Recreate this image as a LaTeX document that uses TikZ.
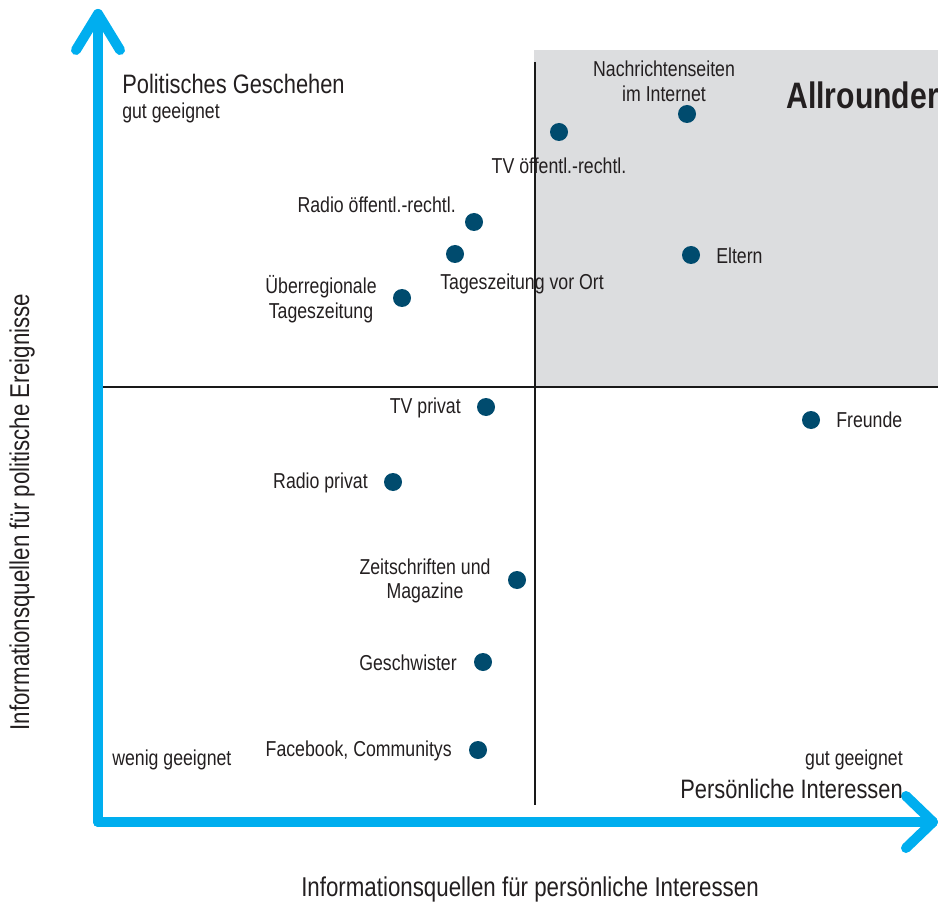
\documentclass[tikz,border=0pt]{standalone}
\usepackage{fontspec}
\setmainfont{Liberation Sans}[FakeStretch=0.82]
\begin{document}
\begin{tikzpicture}[x=0.75pt,y=-0.75pt,
  dot/.style={circle,fill=dotblue,inner sep=0pt,minimum size=13.5pt},
  lbl/.style={inner sep=0pt,font=\fontsize{16.2}{18.5}\selectfont,text=txt,align=center},
  big/.style={inner sep=0pt,font=\fontsize{20}{23}\selectfont,text=txt},
  axlbl/.style={inner sep=0pt,font=\fontsize{20.4}{23}\selectfont,text=txt},
  axis/.style={line width=7.5pt,draw=axblue,line cap=round,line join=round},
  quad/.style={line width=2.2pt,draw=black!90}]
\definecolor{dotblue}{HTML}{004B6E}
\definecolor{axblue}{HTML}{00AEEF}
\definecolor{txt}{HTML}{231F20}
\definecolor{graybg}{HTML}{DCDDDF}
\useasboundingbox (0,0) rectangle (938,905);
% grey quadrant
\fill[graybg] (534,50) rectangle (938,388);
% quadrant lines
\coordinate (vt) at (535,62);
\coordinate (vb) at (535,805);
\coordinate (hl) at (103,387);
\coordinate (hr) at (938,387);
\draw[quad] (vt) -- (vb);
\draw[quad] (hl) -- (hr);
% axes
\coordinate (o) at (98,822);
\coordinate (ytop) at (98,14);
\coordinate (xend) at (933,822);
\draw[axis] (o) -- (ytop);
\draw[axis] (o) -- (xend);
\draw[axis] (76,50) -- (ytop) -- (120,50);
\draw[axis] (906,796) -- (xend) -- (906,848);
% dots and labels
\node[dot] (d1) at (559,132) {};
\node[lbl] (l1) at (559,166) {TV öffentl.-rechtl.};
\node[dot] (d2) at (687,114) {};
\node[lbl] (l2) at (664,81) {Nachrichtenseiten\\im Internet};
\node[dot] (d3) at (474,222) {};
\node[lbl,anchor=east] (l3) at (456,205) {Radio öffentl.-rechtl.};
\node[dot] (d4) at (455,254) {};
\node[lbl] (l4) at (522,284) {Tageszeitung vor Ort};
\node[dot] (d5) at (402,298) {};
\node[lbl] (l5) at (321,299) {Überregionale\\Tageszeitung};
\node[dot] (d6) at (691,255) {};
\node[lbl,anchor=west] (l6) at (716,256) {Eltern};
\node[dot] (d7) at (486,407) {};
\node[lbl,anchor=east] (l7) at (461,408) {TV privat};
\node[dot] (d8) at (811,420) {};
\node[lbl,anchor=west] (l8) at (836,420) {Freunde};
\node[dot] (d9) at (393,482) {};
\node[lbl,anchor=east] (l9) at (368,483) {Radio privat};
\node[dot] (d10) at (517,580) {};
\node[lbl] (l10) at (425,581) {Zeitschriften und\\Magazine};
\node[dot] (d11) at (483,662) {};
\node[lbl,anchor=east] (l11) at (457,663) {Geschwister};
\node[dot] (d12) at (478,750) {};
\node[lbl,anchor=east] (l12) at (452,751) {Facebook, Communitys};
% corner texts
\node[big,anchor=west] (pg) at (122,84) {Politisches Geschehen};
\node[lbl,anchor=west] (gg1) at (122,113) {gut geeignet};
\node[inner sep=0pt,anchor=west,font=\fontsize{27.6}{31}\selectfont\bfseries,text=txt] (allr) at (786,95) {Allrounder};
\node[lbl,anchor=west] (wg) at (112,760) {wenig geeignet};
\node[lbl,anchor=east] (gg2) at (903,760) {gut geeignet};
\node[big,anchor=east] (pi) at (903,789) {Persönliche Interessen};
\node[axlbl] (xl) at (530,889) {Informationsquellen für persönliche Interessen};
\node[axlbl,rotate=90] (yl) at (22,512) {Informationsquellen für politische Ereignisse};
\end{tikzpicture}
\end{document}
